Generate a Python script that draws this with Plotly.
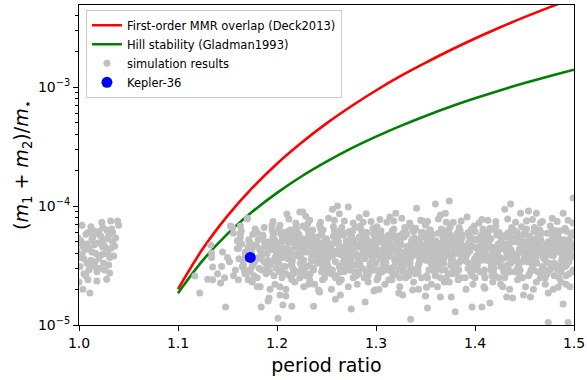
import plotly.graph_objects as go

# ---- stability boundaries, (m1+m2)/m* versus period ratio ----
curve_ratio = [1.100, 1.125, 1.150, 1.175, 1.200, 1.225, 1.250, 1.275, 1.300,
               1.325, 1.350, 1.375, 1.400, 1.425, 1.450, 1.475, 1.500]
mmr_overlap = [2.00e-5, 4.37e-5, 8.27e-5, 1.42e-4, 2.27e-4, 3.42e-4, 4.95e-4,
               6.90e-4, 9.36e-4, 1.24e-3, 1.60e-3, 2.04e-3, 2.56e-3, 3.17e-3,
               3.87e-3, 4.68e-3, 5.60e-3]
hill_stability = [1.85e-5, 3.49e-5, 5.83e-5, 8.94e-5, 1.29e-4, 1.78e-4, 2.36e-4,
                  3.05e-4, 3.83e-4, 4.72e-4, 5.72e-4, 6.83e-4, 8.04e-4, 9.37e-4,
                  1.080e-3, 1.235e-3, 1.40e-3]

# ---- Kepler-36 ----
kepler_ratio = [1.173]
kepler_mass = [3.7e-5]

# ---- y tick labels ----
ytick_vals = [1e-5, 1e-4, 1e-3]
ytick_text = ["10<sup>\u22125</sup>", "10<sup>\u22124</sup>", "10<sup>\u22123</sup>"]

# ---- simulation results (masses in units of 1e-5) ----
cluster_ratio = [
    0.998, 1.002, 1.005, 1.008, 1.011, 1.014, 1.017, 1.020, 1.023, 1.026,
    1.029, 1.032, 1.035, 1.001, 1.004, 1.007, 1.010, 1.013, 1.016, 1.019,
    1.022, 1.025, 1.028, 1.031, 1.034, 0.999, 1.003, 1.006, 1.009, 1.012,
    1.015, 1.018, 1.021, 1.024, 1.027, 1.030, 1.033, 1.000, 1.005, 1.010,
    1.015, 1.020, 1.025, 1.030, 1.037, 1.002, 1.008, 1.013, 1.018, 1.024,
    1.029, 1.034, 1.032, 1.039, 1.040, 1.023, 1.003, 1.011, 1.004, 1.018,
    1.028, 1.031, 1.000, 1.016, 1.026, 1.007, 1.036, 1.021, 1.012, 1.009]
cluster_mass = [
    4.2, 5.1, 3.6, 4.8, 3.2, 5.5, 4.0, 6.1, 3.9, 4.6,
    5.3, 4.4, 3.8, 3.1, 4.6, 5.8, 2.9, 4.1, 3.4, 4.9,
    5.6, 3.3, 6.3, 3.7, 5.0, 5.4, 3.9, 4.3, 6.0, 3.5,
    4.7, 5.9, 3.0, 4.5, 4.0, 5.7, 6.4, 3.7, 2.7, 4.4,
    6.2, 3.6, 5.2, 3.2, 5.4, 4.9, 3.3, 5.2, 2.8, 6.6,
    4.1, 6.0, 7.5, 7.5, 6.9, 7.3, 6.9, 1.86, 2.0, 2.34,
    2.43, 2.73, 2.3, 3.1, 2.9, 2.6, 4.6, 4.9, 6.7, 2.4]

early_ratio = [1.117, 1.122, 1.130, 1.134, 1.135, 1.133, 1.148, 1.143, 1.155, 1.163,
               1.170, 1.153, 1.156, 1.145, 1.152, 1.144, 1.150, 1.160, 1.158, 1.134,
               1.140, 1.156, 1.165, 1.171, 1.173, 1.135, 1.147, 1.161, 1.183, 1.175,
               1.180, 1.193, 1.203, 1.209, 1.192]
early_mass = [2.58, 1.86, 2.43, 4.03, 3.07, 4.7, 1.42, 2.25, 6.6, 5.9,
              7.9, 6.8, 5.9, 4.1, 3.4, 3.1, 3.7, 4.4, 2.9, 3.7,
              2.7, 2.6, 3.1, 2.4, 4.4, 2.4, 2.5, 2.4, 2.1, 2.3,
              2.1, 2.0, 2.1, 1.75, 1.69]

band_ratio = [
    1.161, 1.166, 1.163, 1.169, 1.164, 1.168, 1.162, 1.167, 1.165, 1.160, 1.168, 1.163,
    1.170, 1.176, 1.173, 1.179, 1.171, 1.175, 1.178, 1.172, 1.177, 1.174, 1.171, 1.176,
    1.181, 1.187, 1.183, 1.189, 1.180, 1.185, 1.188, 1.182, 1.186, 1.184, 1.180, 1.187, 1.183, 1.189,
    1.190, 1.196, 1.193, 1.199, 1.191, 1.195, 1.198, 1.192, 1.197, 1.194, 1.191, 1.197, 1.193, 1.199, 1.195, 1.190,
    1.201, 1.207, 1.204, 1.209, 1.202, 1.206, 1.203, 1.208, 1.205, 1.200, 1.203, 1.209, 1.201, 1.206, 1.204, 1.208, 1.202, 1.205,
    1.210, 1.216, 1.213, 1.219, 1.211, 1.215, 1.218, 1.212, 1.217, 1.214, 1.211, 1.219, 1.215, 1.213, 1.217, 1.210, 1.216, 1.212,
    1.221, 1.225, 1.228, 1.222, 1.226, 1.220, 1.224, 1.229, 1.223, 1.227, 1.220, 1.225, 1.229, 1.222, 1.227, 1.224, 1.221, 1.226,
    1.230, 1.236, 1.233, 1.239, 1.231, 1.235, 1.238, 1.232, 1.237, 1.234, 1.231, 1.238, 1.236, 1.233, 1.239, 1.230, 1.235, 1.232,
    1.241, 1.247, 1.244, 1.249, 1.240, 1.246, 1.243, 1.248, 1.245, 1.242, 1.240, 1.246, 1.249, 1.243, 1.247, 1.241, 1.245, 1.248,
    1.250, 1.256, 1.253, 1.258, 1.251, 1.255, 1.259, 1.252, 1.257, 1.254, 1.251, 1.257, 1.253, 1.259, 1.255, 1.250, 1.256, 1.252,
    1.261, 1.267, 1.263, 1.269, 1.260, 1.265, 1.268, 1.262, 1.266, 1.264, 1.260, 1.267, 1.262, 1.269, 1.264, 1.261, 1.265, 1.268,
    1.270, 1.276, 1.273, 1.279, 1.271, 1.275, 1.278, 1.272, 1.277, 1.274, 1.271, 1.277, 1.273, 1.279, 1.275, 1.270, 1.276, 1.272,
    1.281, 1.286, 1.283, 1.289, 1.280, 1.285, 1.288, 1.282, 1.287, 1.284, 1.280, 1.286, 1.282, 1.289, 1.284, 1.281, 1.285, 1.288,
    1.290, 1.296, 1.293, 1.299, 1.291, 1.295, 1.298, 1.292, 1.297, 1.294, 1.291, 1.297, 1.293, 1.299, 1.295, 1.290, 1.296, 1.292,
    1.301, 1.307, 1.303, 1.309, 1.300, 1.305, 1.308, 1.302, 1.306, 1.304, 1.300, 1.307, 1.302, 1.309, 1.304, 1.301, 1.305, 1.308,
    1.310, 1.316, 1.313, 1.319, 1.311, 1.315, 1.318, 1.312, 1.317, 1.314, 1.311, 1.317, 1.313, 1.319, 1.315, 1.310, 1.316, 1.312,
    1.321, 1.327, 1.323, 1.329, 1.320, 1.325, 1.328, 1.322, 1.326, 1.324, 1.320, 1.327, 1.322, 1.329, 1.324, 1.321, 1.325, 1.328,
    1.330, 1.336, 1.333, 1.339, 1.331, 1.335, 1.338, 1.332, 1.337, 1.334, 1.331, 1.337, 1.333, 1.339, 1.335, 1.330, 1.336, 1.332,
    1.341, 1.347, 1.343, 1.349, 1.340, 1.345, 1.348, 1.342, 1.346, 1.344, 1.340, 1.347, 1.342, 1.349, 1.344, 1.341, 1.345, 1.348,
    1.350, 1.356, 1.353, 1.359, 1.351, 1.355, 1.358, 1.352, 1.357, 1.354, 1.351, 1.357, 1.353, 1.359, 1.355, 1.350, 1.356, 1.352,
    1.361, 1.367, 1.363, 1.369, 1.360, 1.365, 1.368, 1.362, 1.366, 1.364, 1.360, 1.367, 1.362, 1.369, 1.364, 1.361, 1.365, 1.368,
    1.370, 1.376, 1.373, 1.379, 1.371, 1.375, 1.378, 1.372, 1.377, 1.374, 1.371, 1.377, 1.373, 1.379, 1.375, 1.370, 1.376, 1.372,
    1.381, 1.387, 1.383, 1.389, 1.380, 1.385, 1.388, 1.382, 1.386, 1.384, 1.380, 1.387, 1.382, 1.389, 1.384, 1.381, 1.385, 1.388,
    1.390, 1.396, 1.393, 1.399, 1.391, 1.395, 1.398, 1.392, 1.397, 1.394, 1.391, 1.397, 1.393, 1.399, 1.395, 1.390, 1.396, 1.392,
    1.401, 1.407, 1.403, 1.409, 1.400, 1.405, 1.408, 1.402, 1.406, 1.404, 1.400, 1.407, 1.402, 1.409, 1.404, 1.401, 1.405, 1.408,
    1.410, 1.416, 1.413, 1.419, 1.411, 1.415, 1.418, 1.412, 1.417, 1.414, 1.411, 1.417, 1.413, 1.419, 1.415, 1.410, 1.416, 1.412,
    1.421, 1.427, 1.423, 1.429, 1.420, 1.425, 1.428, 1.422, 1.426, 1.424, 1.420, 1.427, 1.422, 1.429, 1.424, 1.421, 1.425, 1.428,
    1.430, 1.436, 1.433, 1.439, 1.431, 1.435, 1.438, 1.432, 1.437, 1.434, 1.431, 1.437, 1.433, 1.439, 1.435, 1.430, 1.436, 1.432,
    1.441, 1.447, 1.443, 1.449, 1.440, 1.445, 1.448, 1.442, 1.446, 1.444, 1.440, 1.447, 1.442, 1.449, 1.444, 1.441, 1.445, 1.448,
    1.450, 1.456, 1.453, 1.459, 1.451, 1.455, 1.458, 1.452, 1.457, 1.454, 1.451, 1.457, 1.453, 1.459, 1.455, 1.450, 1.456, 1.452,
    1.461, 1.467, 1.463, 1.469, 1.460, 1.465, 1.468, 1.462, 1.466, 1.464, 1.460, 1.467, 1.462, 1.469, 1.464, 1.461, 1.465, 1.468,
    1.470, 1.476, 1.473, 1.479, 1.471, 1.475, 1.478, 1.472, 1.477, 1.474, 1.471, 1.477, 1.473, 1.479, 1.475, 1.470, 1.476, 1.472,
    1.481, 1.487, 1.483, 1.489, 1.480, 1.485, 1.488, 1.482, 1.486, 1.484, 1.480, 1.487, 1.482, 1.489, 1.484, 1.481, 1.485, 1.488,
    1.490, 1.496, 1.493, 1.499, 1.491, 1.495, 1.498, 1.492, 1.497, 1.494, 1.491, 1.497, 1.493, 1.499, 1.495, 1.490, 1.496, 1.492]
band_mass = [
    4.4, 3.2, 5.5, 2.7, 6.2, 3.8, 4.9, 2.9, 3.5, 5.1, 4.1, 6.8,
    3.6, 4.7, 2.8, 5.9, 4.1, 3.1, 6.4, 5.0, 2.6, 3.9, 4.5, 3.3,
    5.2, 3.4, 4.3, 2.7, 6.0, 3.9, 4.8, 3.0, 5.6, 4.1, 2.5, 6.6, 3.6, 4.5,
    4.0, 5.5, 3.2, 4.6, 2.8, 6.3, 3.7, 5.0, 2.6, 4.3, 3.5, 5.9, 4.8, 3.0, 6.9, 2.9,
    4.6, 3.1, 5.8, 2.7, 6.4, 3.9, 4.2, 5.1, 2.5, 3.5, 6.9, 4.4, 3.3, 5.4, 2.9, 4.0, 4.9, 3.7,
    3.8, 5.2, 2.6, 4.5, 6.1, 3.3, 4.8, 5.9, 2.9, 4.1, 3.6, 6.6, 2.4, 5.0, 3.9, 4.3, 3.0, 5.5,
    5.6, 3.4, 4.2, 2.8, 6.8, 4.9, 3.7, 5.1, 2.5, 4.4, 6.2, 3.0, 4.7, 5.8, 3.5, 2.7, 4.0, 5.3,
    4.1, 6.3, 3.2, 5.0, 2.6, 4.6, 3.8, 5.7, 2.9, 4.3, 7.1, 3.5, 4.9, 2.4, 5.4, 3.1, 4.0, 6.0,
    3.3, 4.8, 6.5, 2.7, 5.2, 3.9, 4.4, 2.5, 5.9, 3.6, 4.7, 3.0, 4.1, 6.9, 3.4, 5.5, 2.8, 4.5,
    5.1, 2.9, 4.3, 6.2, 3.6, 4.8, 2.5, 3.9, 5.6, 4.1, 3.2, 6.7, 4.6, 3.4, 2.7, 5.3, 3.8, 4.4,
    4.0, 5.7, 3.1, 4.6, 2.6, 6.4, 3.7, 5.0, 4.3, 2.8, 5.4, 3.4, 6.0, 4.1, 3.0, 4.9, 2.4, 3.8,
    3.5, 4.9, 6.1, 2.7, 4.2, 5.4, 3.2, 4.6, 2.5, 5.9, 3.8, 4.4, 2.9, 6.6, 3.6, 5.1, 4.0, 3.1,
    4.7, 3.0, 5.5, 3.9, 2.6, 6.3, 4.2, 3.4, 5.0, 4.5, 2.8, 5.8, 3.7, 4.1, 6.8, 3.2, 4.9, 2.5,
    5.3, 3.6, 4.4, 2.9, 6.0, 3.9, 5.1, 2.6, 4.7, 3.3, 4.1, 6.5, 3.0, 5.6, 4.3, 2.8, 3.7, 5.0,
    3.9, 5.4, 2.7, 4.6, 3.3, 6.2, 4.1, 2.5, 5.0, 3.6, 4.8, 3.1, 5.8, 4.3, 2.9, 6.7, 3.8, 4.5,
    4.4, 2.8, 5.7, 3.5, 4.9, 3.0, 6.4, 4.0, 2.6, 5.2, 3.7, 4.6, 2.4, 5.5, 4.2, 3.3, 6.0, 3.9,
    5.0, 3.4, 4.3, 6.6, 2.7, 4.8, 3.1, 5.6, 3.8, 2.5, 4.5, 5.9, 3.6, 4.1, 2.9, 5.3, 4.7, 3.2,
    3.7, 4.9, 2.6, 5.4, 4.2, 3.0, 6.1, 3.5, 4.6, 2.8, 5.8, 4.0, 3.3, 4.4, 6.8, 2.5, 5.1, 3.9,
    4.5, 6.0, 3.2, 4.0, 2.7, 5.3, 3.8, 4.8, 2.5, 3.5, 6.5, 4.3, 3.0, 5.6, 4.1, 2.9, 4.7, 3.6,
    5.5, 3.3, 4.6, 2.8, 4.1, 6.3, 3.6, 5.0, 3.0, 4.4, 2.6, 5.8, 3.9, 4.8, 3.4, 6.9, 4.2, 2.5,
    3.1, 4.7, 5.9, 3.7, 2.6, 4.3, 5.2, 3.4, 6.4, 4.0, 2.8, 4.9, 3.6, 5.5, 3.2, 4.5, 2.5, 6.1,
    4.8, 3.5, 2.7, 5.6, 4.2, 6.7, 3.0, 4.5, 3.8, 5.1, 2.5, 4.0, 6.0, 3.3, 4.6, 2.9, 5.3, 3.9,
    4.0, 5.7, 3.3, 4.6, 2.8, 6.2, 3.7, 5.0, 2.5, 4.3, 3.1, 5.4, 4.8, 3.5, 6.6, 2.7, 4.1, 3.9,
    3.6, 4.9, 6.0, 2.9, 4.4, 3.2, 5.3, 4.1, 2.6, 5.8, 3.8, 4.6, 3.0, 6.8, 4.2, 2.5, 5.1, 3.4,
    5.2, 3.5, 4.3, 2.7, 6.1, 3.9, 4.7, 3.0, 5.6, 4.0, 2.5, 4.9, 3.3, 5.9, 3.7, 4.5, 2.8, 6.4,
    4.2, 2.9, 5.5, 3.6, 4.8, 6.5, 3.2, 4.4, 2.6, 5.1, 3.8, 4.0, 6.0, 3.0, 4.6, 2.5, 5.3, 3.5,
    3.4, 5.0, 4.1, 2.8, 6.3, 3.7, 4.6, 5.7, 3.1, 4.3, 2.6, 5.4, 3.9, 4.8, 2.5, 6.8, 3.6, 4.4,
    4.7, 3.3, 5.9, 4.0, 2.7, 5.2, 3.6, 4.5, 6.6, 2.9, 4.2, 3.4, 5.5, 3.8, 4.9, 2.5, 6.1, 3.1,
    3.9, 5.6, 3.0, 4.6, 6.2, 2.6, 4.3, 3.5, 5.1, 4.0, 2.8, 6.7, 3.7, 4.8, 3.2, 5.4, 4.4, 2.5,
    5.0, 3.6, 4.4, 2.9, 5.8, 4.1, 3.2, 6.4, 4.7, 2.6, 3.9, 5.3, 3.4, 4.5, 2.7, 6.0, 3.8, 4.9,
    4.3, 2.8, 5.4, 3.7, 6.6, 4.0, 3.1, 4.8, 2.5, 5.7, 3.5, 4.2, 6.1, 3.0, 4.6, 3.3, 5.1, 3.9,
    3.6, 4.9, 2.7, 5.5, 4.1, 3.3, 6.3, 4.5, 3.0, 5.0, 2.5, 4.3, 5.9, 3.8, 4.7, 2.9, 6.8, 3.4,
    4.6, 3.2, 5.8, 4.0, 2.6, 4.9, 3.6, 6.2, 3.0, 4.4, 5.3, 2.8, 4.1, 3.5, 6.0, 4.7, 2.5, 3.9,
    5.1, 3.7, 4.3, 2.9, 6.5, 3.4, 4.8, 2.6, 5.6, 4.0, 3.1, 4.5, 6.1, 3.8, 2.7, 5.2, 4.2, 3.3]

band2_ratio = [
    1.1615, 1.1645, 1.1675, 1.1625, 1.1695, 1.1655,
    1.1715, 1.1745, 1.1775, 1.1725, 1.1795, 1.1755,
    1.1815, 1.1845, 1.1875, 1.1825, 1.1895, 1.1855,
    1.1915, 1.1945, 1.1975, 1.1925, 1.1995, 1.1955,
    1.2015, 1.2045, 1.2075, 1.2025, 1.2065, 1.2095, 1.2035, 1.2055, 1.2085, 1.2005,
    1.2115, 1.2145, 1.2175, 1.2125, 1.2165, 1.2195, 1.2135, 1.2155, 1.2185, 1.2105,
    1.2215, 1.2245, 1.2275, 1.2225, 1.2265, 1.2295, 1.2235, 1.2255, 1.2285, 1.2205,
    1.2315, 1.2345, 1.2375, 1.2325, 1.2365, 1.2395, 1.2335, 1.2355, 1.2385, 1.2305,
    1.2415, 1.2445, 1.2475, 1.2425, 1.2465, 1.2495, 1.2435, 1.2455, 1.2485, 1.2405,
    1.2515, 1.2545, 1.2575, 1.2525, 1.2565, 1.2595, 1.2535, 1.2555, 1.2585, 1.2505,
    1.2615, 1.2645, 1.2675, 1.2625, 1.2665, 1.2695, 1.2635, 1.2655, 1.2685, 1.2605,
    1.2715, 1.2745, 1.2775, 1.2725, 1.2765, 1.2795, 1.2735, 1.2755, 1.2785, 1.2705,
    1.2815, 1.2845, 1.2875, 1.2825, 1.2865, 1.2895, 1.2835, 1.2855, 1.2885, 1.2805,
    1.2915, 1.2945, 1.2975, 1.2925, 1.2965, 1.2995, 1.2935, 1.2955, 1.2985, 1.2905,
    1.3015, 1.3045, 1.3075, 1.3025, 1.3065, 1.3095, 1.3035, 1.3055, 1.3085, 1.3005,
    1.3115, 1.3145, 1.3175, 1.3125, 1.3165, 1.3195, 1.3135, 1.3155, 1.3185, 1.3105,
    1.3215, 1.3245, 1.3275, 1.3225, 1.3265, 1.3295, 1.3235, 1.3255, 1.3285, 1.3205,
    1.3315, 1.3345, 1.3375, 1.3325, 1.3365, 1.3395, 1.3335, 1.3355, 1.3385, 1.3305,
    1.3415, 1.3445, 1.3475, 1.3425, 1.3465, 1.3495, 1.3435, 1.3455, 1.3485, 1.3405,
    1.3515, 1.3545, 1.3575, 1.3525, 1.3565, 1.3595, 1.3535, 1.3555, 1.3585, 1.3505,
    1.3615, 1.3645, 1.3675, 1.3625, 1.3665, 1.3695, 1.3635, 1.3655, 1.3685, 1.3605,
    1.3715, 1.3745, 1.3775, 1.3725, 1.3765, 1.3795, 1.3735, 1.3755, 1.3785, 1.3705,
    1.3815, 1.3845, 1.3875, 1.3825, 1.3865, 1.3895, 1.3835, 1.3855, 1.3885, 1.3805,
    1.3915, 1.3945, 1.3975, 1.3925, 1.3965, 1.3995, 1.3935, 1.3955, 1.3985, 1.3905,
    1.4015, 1.4045, 1.4075, 1.4025, 1.4065, 1.4095, 1.4035, 1.4055, 1.4085, 1.4005,
    1.4115, 1.4145, 1.4175, 1.4125, 1.4165, 1.4195, 1.4135, 1.4155, 1.4185, 1.4105,
    1.4215, 1.4245, 1.4275, 1.4225, 1.4265, 1.4295, 1.4235, 1.4255, 1.4285, 1.4205,
    1.4315, 1.4345, 1.4375, 1.4325, 1.4365, 1.4395, 1.4335, 1.4355, 1.4385, 1.4305,
    1.4415, 1.4445, 1.4475, 1.4425, 1.4465, 1.4495, 1.4435, 1.4455, 1.4485, 1.4405,
    1.4515, 1.4545, 1.4575, 1.4525, 1.4565, 1.4595, 1.4535, 1.4555, 1.4585, 1.4505,
    1.4615, 1.4645, 1.4675, 1.4625, 1.4665, 1.4695, 1.4635, 1.4655, 1.4685, 1.4605,
    1.4715, 1.4745, 1.4775, 1.4725, 1.4765, 1.4795, 1.4735, 1.4755, 1.4785, 1.4705,
    1.4815, 1.4845, 1.4875, 1.4825, 1.4865, 1.4895, 1.4835, 1.4855, 1.4885, 1.4805,
    1.4915, 1.4945, 1.4975, 1.4925, 1.4965, 1.4995, 1.4935, 1.4955, 1.4985, 1.4905]
band2_mass = [
    3.6, 4.8, 2.7, 5.3, 4.0, 3.1,
    5.2, 4.3, 3.4, 2.9, 4.6, 5.8,
    3.7, 2.9, 5.0, 4.4, 3.2, 5.7,
    4.5, 3.4, 5.2, 2.8, 4.1, 6.1,
    3.4, 5.0, 4.2, 2.8, 6.0, 3.7, 4.7, 5.5, 3.1, 4.0,
    4.9, 3.2, 5.8, 4.3, 2.7, 3.9, 6.3, 3.5, 4.6, 5.2,
    3.8, 4.5, 2.9, 5.4, 4.1, 6.5, 3.3, 4.8, 2.6, 5.9,
    5.2, 3.6, 4.4, 6.1, 3.0, 4.8, 2.7, 5.6, 3.9, 4.2,
    4.1, 5.7, 3.2, 4.9, 6.3, 2.9, 4.5, 3.6, 5.3, 3.9,
    3.6, 4.6, 5.5, 3.0, 4.2, 6.1, 3.8, 2.7, 5.0, 4.4,
    5.4, 3.9, 2.8, 4.7, 3.3, 5.9, 4.4, 6.6, 3.6, 4.1,
    4.4, 2.9, 5.2, 3.8, 6.2, 4.0, 3.4, 5.6, 4.8, 3.0,
    3.8, 5.3, 4.5, 2.7, 4.0, 6.0, 3.3, 5.0, 3.6, 4.6,
    4.7, 3.1, 5.8, 4.2, 3.5, 6.3, 2.8, 4.9, 4.0, 5.3,
    4.3, 6.0, 3.4, 5.1, 2.8, 4.6, 3.9, 5.6, 3.2, 4.9,
    5.6, 3.8, 4.3, 2.9, 6.2, 3.4, 5.0, 4.6, 3.1, 4.0,
    3.9, 5.1, 2.8, 4.4, 3.5, 6.1, 4.8, 3.2, 5.5, 4.2,
    4.6, 3.3, 5.3, 4.0, 6.4, 2.9, 4.4, 3.7, 5.0, 3.5,
    5.0, 3.7, 4.4, 2.8, 5.6, 4.1, 3.3, 6.0, 4.7, 3.9,
    3.7, 5.2, 4.0, 6.0, 3.1, 4.6, 2.9, 5.4, 4.3, 3.5,
    4.9, 3.6, 5.5, 4.1, 2.9, 6.2, 3.9, 4.6, 3.3, 5.1,
    4.1, 5.8, 3.5, 4.8, 2.7, 4.3, 6.3, 3.2, 5.2, 3.9,
    5.3, 3.4, 4.6, 6.0, 3.7, 4.2, 2.9, 5.0, 3.6, 4.8,
    4.4, 5.5, 3.3, 4.0, 6.4, 3.6, 4.9, 2.8, 5.2, 4.2,
    3.8, 4.6, 5.9, 3.2, 4.3, 2.9, 5.3, 4.0, 6.2, 3.5,
    4.9, 3.5, 4.5, 5.8, 3.1, 4.2, 6.1, 3.7, 2.8, 5.1,
    4.5, 6.0, 3.6, 4.1, 5.2, 2.9, 4.8, 3.3, 5.6, 4.0,
    3.7, 4.8, 5.4, 3.2, 4.3, 6.2, 3.9, 2.8, 5.0, 4.5,
    5.0, 4.1, 3.4, 6.0, 4.7, 3.6, 5.5, 2.9, 4.3, 3.8,
    4.3, 5.6, 3.7, 4.8, 2.9, 6.1, 3.4, 5.1, 4.0, 4.6,
    3.6, 4.7, 5.9, 3.3, 5.2, 4.4, 2.8, 6.3, 3.9, 4.9,
    4.8, 3.9, 5.1, 4.3, 6.0, 3.2, 4.6, 2.9, 5.5, 4.0,
    4.1, 5.4, 3.5, 4.9, 6.2, 3.8, 2.9, 5.0, 4.4, 3.3,
    3.9, 4.6, 5.7, 3.2, 4.4, 6.0, 3.6, 5.2, 2.8, 4.7]

fringe_ratio = [
    1.196, 1.212, 1.219, 1.233, 1.244, 1.252, 1.268, 1.277, 1.283, 1.295,
    1.304, 1.311, 1.318, 1.326, 1.334, 1.345, 1.352, 1.363, 1.371, 1.386,
    1.392, 1.404, 1.413, 1.421, 1.433, 1.441, 1.452, 1.458, 1.466, 1.478,
    1.483, 1.494, 1.229, 1.287, 1.347, 1.407, 1.468, 1.499, 1.258, 1.378,
    1.198, 1.209, 1.218, 1.227, 1.238, 1.246, 1.255, 1.263, 1.272, 1.281,
    1.292, 1.303, 1.309, 1.316, 1.324, 1.338, 1.343, 1.356, 1.362, 1.374,
    1.383, 1.391, 1.398, 1.409, 1.418, 1.426, 1.435, 1.443, 1.451, 1.462,
    1.471, 1.479, 1.487, 1.496, 1.232, 1.301, 1.369, 1.428, 1.459, 1.492]
fringe_mass = [
    7.4, 7.8, 7.2, 7.6, 7.3, 7.9, 7.5, 7.2, 8.0, 7.4,
    7.7, 7.3, 7.5, 7.9, 7.2, 7.6, 7.4, 7.8, 7.3, 7.5,
    8.1, 7.2, 7.6, 7.4, 7.8, 7.3, 7.5, 7.7, 7.2, 7.9,
    7.4, 7.6, 8.2, 7.3, 7.5, 7.7, 7.4, 7.2, 7.6, 7.3,
    2.2, 2.0, 2.3, 2.1, 2.2, 2.4, 2.0, 2.3, 2.1, 2.2,
    2.3, 2.0, 2.2, 2.4, 2.1, 2.3, 2.0, 2.2, 2.1, 2.3,
    2.4, 2.0, 2.2, 2.1, 2.3, 2.2, 2.0, 2.4, 2.1, 2.3,
    2.2, 2.0, 2.3, 2.1, 2.2, 2.4, 2.3, 2.1, 2.0, 2.2]

outlier_ratio = [
    1.210, 1.223, 1.170, 1.261, 1.272, 1.256, 1.263, 1.360, 1.341, 1.226,
    1.320, 1.314, 1.290, 1.374, 1.436, 1.430, 1.446, 1.454, 1.462, 1.489,
    1.370, 1.365, 1.499,
    1.474, 1.494, 1.335, 1.201, 1.184, 1.191, 1.206, 1.215, 1.203, 1.380,
    1.397, 1.407, 1.415, 1.365, 1.376, 1.489, 1.474, 1.456, 1.432, 1.438,
    1.484, 1.449, 1.410, 1.237, 1.275, 1.289, 1.259, 1.264, 1.352, 1.323,
    1.350, 1.243, 1.298, 1.327, 1.242, 1.299, 1.337, 1.351]
outlier_mass = [
    8.57, 8.9, 7.8, 10.0, 9.8, 9.4, 8.6, 10.4, 9.6, 8.9,
    8.7, 8.1, 8.6, 11.0, 10.4, 9.4, 8.7, 9.1, 8.7, 8.7,
    8.7, 8.4, 11.7,
    1.05, 1.05, 1.12, 1.14, 1.42, 1.59, 1.47, 1.44, 1.79, 1.29,
    1.42, 1.42, 1.53, 1.72, 1.72, 1.5, 1.86, 1.72, 1.72, 1.69,
    2.08, 1.79, 2.04, 1.44, 1.36, 1.56, 1.65, 1.79, 1.39, 1.86,
    1.75, 1.89, 1.93, 1.79, 1.97, 1.97, 1.97, 2.08]

MASS_UNIT = 1e-5

groups = [(cluster_ratio, cluster_mass), (early_ratio, early_mass),
          (band_ratio, band_mass), (band2_ratio, band2_mass),
          (fringe_ratio, fringe_mass), (outlier_ratio, outlier_mass)]
sim_ratio, sim_mass = [], []
for xs, ms in groups:
    assert len(xs) == len(ms), (len(xs), len(ms))
    sim_ratio += xs
    sim_mass += [m * MASS_UNIT for m in ms]

FONT = "DejaVu Sans, Verdana, sans-serif"

fig = go.Figure()
fig.add_trace(go.Scatter(
    x=curve_ratio, y=mmr_overlap, mode="lines", line_shape="spline",
    line=dict(color="#ff0000", width=2.6),
    name="First-order MMR overlap (Deck2013)"))
fig.add_trace(go.Scatter(
    x=curve_ratio, y=hill_stability, mode="lines", line_shape="spline",
    line=dict(color="#008000", width=2.6),
    name="Hill stability (Gladman1993)"))
fig.add_trace(go.Scatter(
    x=sim_ratio, y=sim_mass, mode="markers",
    marker=dict(color="#c0c0c0", size=7, line=dict(width=0)),
    name="simulation results"))
fig.add_trace(go.Scatter(
    x=kepler_ratio, y=kepler_mass, mode="markers",
    marker=dict(color="#0000ff", size=11, line=dict(width=0)),
    name="Kepler-36"))

minor_vals = [k * 10.0 ** e for e in (-5, -4, -3) for k in range(2, 10)]

fig.update_layout(
    width=587, height=380,
    margin=dict(l=79, r=13, t=5, b=55),
    paper_bgcolor="white", plot_bgcolor="white",
    font=dict(family=FONT, size=14, color="black"),
    showlegend=True,
    legend=dict(
        x=0.014, y=0.985, xanchor="left", yanchor="top",
        bgcolor="rgba(255,255,255,0.85)", bordercolor="#cccccc", borderwidth=1,
        font=dict(family=FONT, size=11.5, color="black"),
        tracegroupgap=0, itemwidth=30),
)
fig.update_xaxes(
    range=[1.0, 1.5], tickvals=[1.0, 1.1, 1.2, 1.3, 1.4, 1.5],
    ticktext=["1.0", "1.1", "1.2", "1.3", "1.4", "1.5"],
    ticks="outside", ticklen=5, tickwidth=1, tickcolor="black",
    showline=True, mirror=True, linecolor="black", linewidth=1,
    showgrid=False, zeroline=False, automargin=False,
    tickfont=dict(size=14),
    title=dict(text="period ratio", font=dict(size=19), standoff=8))
fig.update_yaxes(
    type="log", range=[-5, -2.31],
    tickvals=ytick_vals, ticktext=ytick_text,
    ticks="outside", ticklen=5, tickwidth=1, tickcolor="black",
    minor=dict(tickvals=minor_vals, ticks="outside", ticklen=3,
               tickcolor="black", tickwidth=1, showgrid=False),
    showline=True, mirror=True, linecolor="black", linewidth=1,
    showgrid=False, zeroline=False, automargin=False,
    tickfont=dict(size=14),
    title=dict(text="(<i>m</i><sub>1</sub> + <i>m</i><sub>2</sub>)/<i>m</i><sub>\u22c6</sub>",
               font=dict(size=19), standoff=4))

fig.write_html("out.html")
